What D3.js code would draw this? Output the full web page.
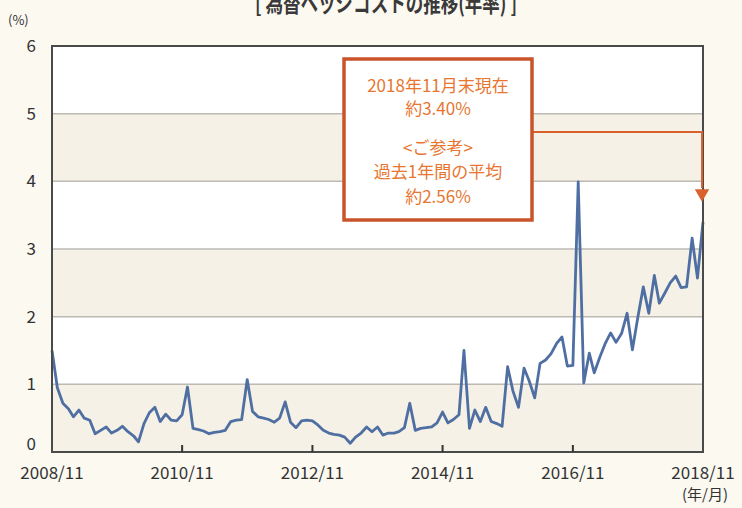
<!DOCTYPE html>
<html>
<head>
<meta charset="utf-8">
<script src="https://cdn.jsdelivr.net/npm/d3@7"></script>
<style>
  html, body { margin: 0; padding: 0; background: #fcf9f1; }
  svg { display: block; }
</style>
</head>
<body>
<svg id="chart" width="742" height="508"></svg>
<script>
// monthly hedge cost (%), 2008/11 .. 2018/11
var startYear = 2008, startMonth = 11;
var values = [
  1.50, 0.95, 0.72, 0.64, 0.52, 0.62, 0.50, 0.47, 0.27, 0.32,
  0.37, 0.28, 0.32, 0.38, 0.30, 0.24, 0.15, 0.42, 0.58, 0.66,
  0.45, 0.56, 0.47, 0.46, 0.55, 0.96, 0.35, 0.33, 0.31, 0.27,
  0.29, 0.30, 0.32, 0.45, 0.47, 0.48, 1.07, 0.60, 0.52, 0.50,
  0.48, 0.44, 0.50, 0.74, 0.44, 0.36, 0.46, 0.47, 0.46, 0.40,
  0.32, 0.28, 0.26, 0.25, 0.22, 0.13, 0.22, 0.28, 0.37, 0.30,
  0.37, 0.25, 0.28, 0.28, 0.30, 0.36, 0.72, 0.32, 0.35, 0.36,
  0.37, 0.43, 0.59, 0.43, 0.48, 0.55, 1.50, 0.35, 0.62, 0.45,
  0.66, 0.45, 0.42, 0.38, 1.26, 0.90, 0.66, 1.24, 1.05, 0.80,
  1.31, 1.36, 1.45, 1.60, 1.70, 1.27, 1.28, 3.99, 1.02, 1.46,
  1.17, 1.40, 1.60, 1.76, 1.62, 1.75, 2.05, 1.51, 2.00, 2.44,
  2.05, 2.61, 2.20, 2.35, 2.50, 2.60, 2.43, 2.44, 3.16, 2.57,
  3.40
];
var xTickLabels = ["2008/11", "2010/11", "2012/11", "2014/11", "2016/11", "2018/11"];
var yTicks = [0, 1, 2, 3, 4, 5, 6];
var noteLines = ["2018年11月末現在", "約3.40%", "<ご参考>", "過去1年間の平均", "約2.56%"];
var title = "[ 為替ヘッジコストの推移(年率) ]";

var svg = d3.select("#chart"),
    margin = {top: 46, right: 39, bottom: 56, left: 52},
    width = 742 - margin.left - margin.right,
    height = 508 - margin.top - margin.bottom,
    g = svg.append("g").attr("transform", "translate(" + margin.left + "," + margin.top + ")");

var font = "'Noto Sans CJK JP', 'Noto Sans', sans-serif";

var data = values.map(function(v, i) {
  return {date: new Date(startYear, startMonth - 1 + i, 1), value: v};
});

var x = d3.scaleTime()
    .domain([data[0].date, data[data.length - 1].date])
    .range([0, width]);

var y = d3.scaleLinear()
    .domain([0, 6])
    .range([height, 0]);

var tickDates = xTickLabels.map(function(s) {
  var p = s.split("/");
  return new Date(+p[0], +p[1] - 1, 1);
});

// title (top of it falls outside the picture, as in the source)
svg.append("text")
    .attr("x", 386)
    .attr("y", 12)
    .attr("text-anchor", "middle")
    .attr("font-family", font)
    .attr("font-weight", "bold")
    .attr("font-size", 24)
    .attr("fill", "#3a3a3a")
    .attr("textLength", 262)
    .attr("lengthAdjust", "spacingAndGlyphs")
    .text(title);

// bands
g.append("g")
  .selectAll("rect")
  .data(d3.range(6))
  .enter().append("rect")
    .attr("x", 0)
    .attr("width", width)
    .attr("y", function(d) { return y(d + 1); })
    .attr("height", function(d) { return y(d) - y(d + 1); })
    .attr("fill", function(d) { return d % 2 == 0 ? "#f5f1e6" : "#ffffff"; });

// grid
g.append("g")
  .selectAll("line")
  .data(yTicks.slice(1, -1))
  .enter().append("line")
    .attr("x1", 0)
    .attr("x2", width)
    .attr("y1", function(d) { return y(d); })
    .attr("y2", function(d) { return y(d); })
    .attr("stroke", "#bdbab4")
    .attr("stroke-width", 1.5);

// line
var line = d3.line()
    .x(function(d) { return x(d.date); })
    .y(function(d) { return y(d.value); });

g.append("path")
    .datum(data)
    .attr("fill", "none")
    .attr("stroke", "#4f6fa3")
    .attr("stroke-width", 2.8)
    .attr("stroke-linejoin", "round")
    .attr("d", line);

// frame
g.append("rect")
    .attr("width", width)
    .attr("height", height)
    .attr("fill", "none")
    .attr("stroke", "#4a4a4a")
    .attr("stroke-width", 2);

// x ticks inside
g.append("g")
  .selectAll("line")
  .data(tickDates.slice(1, -1))
  .enter().append("line")
    .attr("x1", function(d) { return x(d); })
    .attr("x2", function(d) { return x(d); })
    .attr("y1", height)
    .attr("y2", height - 7)
    .attr("stroke", "#333")
    .attr("stroke-width", 2);

// axis labels
g.append("g")
  .selectAll("text")
  .data(tickDates)
  .enter().append("text")
    .attr("x", function(d) { return x(d); })
    .attr("y", height + 27)
    .attr("text-anchor", "middle")
    .attr("font-family", font)
    .attr("font-size", 17)
    .attr("fill", "#333")
    .text(function(d, i) { return xTickLabels[i]; });

g.append("text")
    .attr("x", width + 2)
    .attr("y", height + 48)
    .attr("text-anchor", "middle")
    .attr("font-family", font)
    .attr("font-size", 15)
    .attr("fill", "#333")
    .text("(年/月)");

g.append("g")
  .selectAll("text")
  .data(yTicks)
  .enter().append("text")
    .attr("x", -16)
    .attr("y", function(d) { return d == 0 ? y(d) - 8 : y(d); })
    .attr("dy", "0.36em")
    .attr("text-anchor", "end")
    .attr("font-family", font)
    .attr("font-size", 17)
    .attr("fill", "#333")
    .text(function(d) { return d; });

svg.append("text")
    .attr("x", 8)
    .attr("y", 25)
    .attr("font-family", font)
    .attr("font-size", 13)
    .attr("fill", "#333")
    .text("(%)");

// annotation box + connector
var last = data[data.length - 1];
var box = {x: 344, y: 59, w: 188, h: 161};
var connY = 132;
var orange = "#d8612c";

svg.append("path")
    .attr("fill", "none")
    .attr("stroke", orange)
    .attr("stroke-width", 2)
    .attr("d", "M" + (box.x + box.w) + "," + connY +
               "H" + (margin.left + x(last.date) - 1) +
               "V" + (margin.top + y(3.9)));

svg.append("path")
    .attr("fill", orange)
    .attr("d", d3.symbol().type(d3.symbolTriangle).size(90)())
    .attr("transform", "translate(" + (margin.left + x(last.date) - 1) + "," + (margin.top + y(3.82)) + ") rotate(180)");

svg.append("rect")
    .attr("x", box.x)
    .attr("y", box.y)
    .attr("width", box.w)
    .attr("height", box.h)
    .attr("fill", "#ffffff")
    .attr("stroke", "#c9542b")
    .attr("stroke-width", 3.5);

var lineY = [86, 109, 148, 172, 197];
svg.append("g")
  .selectAll("text")
  .data(noteLines)
  .enter().append("text")
    .attr("x", box.x + box.w / 2)
    .attr("y", function(d, i) { return lineY[i]; })
    .attr("dy", "0.35em")
    .attr("text-anchor", "middle")
    .attr("font-family", font)
    .attr("font-size", 17)
    .attr("fill", "#e8762f")
    .text(function(d) { return d; });
</script>
</body>
</html>
